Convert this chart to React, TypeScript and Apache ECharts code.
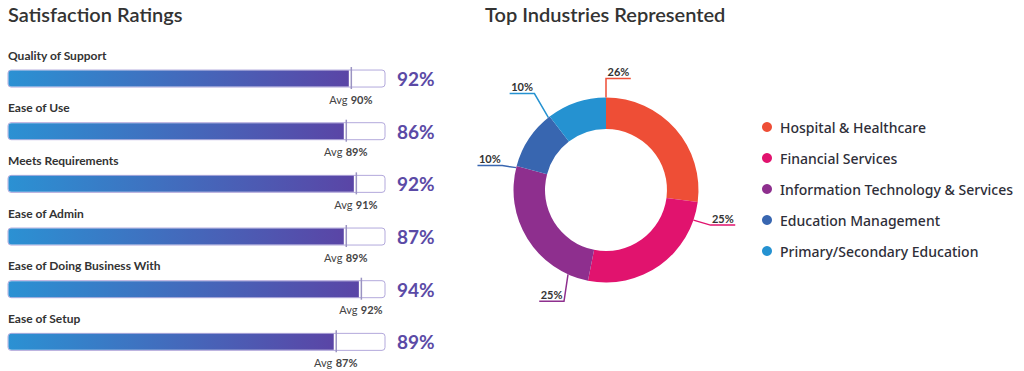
import React, { useEffect, useRef } from "react";
import * as echarts from "echarts";

// ---- data ----
const CATEGORIES = [
  "Quality of Support",
  "Ease of Use",
  "Meets Requirements",
  "Ease of Admin",
  "Ease of Doing Business With",
  "Ease of Setup",
];
const SCORES = [92, 86, 92, 87, 94, 89];
const AVERAGES = [90, 89, 91, 89, 92, 87];

const INDUSTRIES = [
  "Hospital & Healthcare",
  "Financial Services",
  "Information Technology & Services",
  "Education Management",
  "Primary/Secondary Education",
];
const SHARES = [26, 25, 25, 10, 10];
const INDUSTRY_COLORS = ["#ee4e36", "#e1136e", "#8e2f8e", "#3866b0", "#2592d1"];

// ---- label styling (leader lines) ----
const ANCHOR_SHIFT = [0, 11.5, 13, -1, -1];
const ELBOWS: [number, number][] = [
  [0, -19],
  [17, 5],
  [-4, 27],
  [-14, -2],
  [-14, -24],
];
const DIRS = [1, 1, -1, -1, -1];

const PIE_CENTER: [number, number] = [606, 190];
const PIE_R_IN = 61;
const PIE_R_OUT = 92.5;

const AXIS_MIN = 22;
const AXIS_MAX = 97;

export default function App() {
  const ref = useRef<HTMLDivElement>(null);

  useEffect(() => {
    if (!ref.current) return;
    const chart = echarts.init(ref.current, undefined, { renderer: "svg" });
    const total = SHARES.reduce((a, b) => a + b, 0);

    const barData = CATEGORIES.map((c, i) => [AVERAGES[i], i, SCORES[i]]);

    const option: any = {
      animation: false,
      title: [
        {
          text: "Satisfaction Ratings",
          left: 8,
          top: 4,
          padding: 0,
          textStyle: { fontFamily: "Lato", fontSize: 20, fontWeight: 600, color: "#333" },
        },
        {
          text: "Top Industries Represented",
          left: 485,
          top: 4,
          padding: 0,
          textStyle: { fontFamily: "Lato", fontSize: 20, fontWeight: 600, color: "#333" },
        },
      ],
      grid: { left: 8, right: 639, top: 52.2, bottom: 2.8 },
      xAxis: { type: "value", min: AXIS_MIN, max: AXIS_MAX, show: false },
      yAxis: { type: "category", data: CATEGORIES, inverse: true, show: false },
      legend: {
        data: INDUSTRIES,
        orient: "vertical",
        left: 762,
        top: 120,
        padding: 0,
        itemWidth: 16,
        itemHeight: 10,
        itemGap: 17,
        icon: "circle",
        selectedMode: false,
        textStyle: {
          fontFamily: "Noto Sans",
          fontSize: 14,
          fontWeight: 500,
          color: "#2e2e38",
          lineHeight: 14,
        },
      },
      series: [
        {
          type: "custom",
          clip: false,
          encode: { x: 0, y: 1 },
          data: barData,
          renderItem: (params: any, api: any) => {
            const avg = api.value(0);
            const idx = api.value(1);
            const score = api.value(2);
            const cs = params.coordSys;
            const [xa, yc] = api.coord([avg, idx]);
            const x0 = cs.x;
            const x1 = cs.x + cs.width;
            const h = 17;
            const top = yc - h / 2;
            return {
              type: "group",
              children: [
                {
                  type: "rect",
                  shape: { x: x0, y: top, width: x1 - x0, height: h, r: 3 },
                  style: { fill: "#fff", stroke: "#b3a9dc", lineWidth: 1 },
                },
                {
                  type: "rect",
                  shape: { x: x0 + 0.5, y: top + 0.5, width: xa - x0 - 1.5, height: h - 1, r: [3, 0, 0, 3] },
                  style: {
                    fill: new echarts.graphic.LinearGradient(0, 0, 1, 0, [
                      { offset: 0, color: "#2b91d3" },
                      { offset: 1, color: "#5a45a6" },
                    ]),
                  },
                },
                {
                  type: "line",
                  shape: { x1: xa + 1.5, y1: top - 3, x2: xa + 1.5, y2: top + h + 2 },
                  style: { stroke: "#9a93c2", lineWidth: 1.5 },
                },
                {
                  type: "text",
                  x: x0,
                  y: top - 15,
                  style: {
                    text: CATEGORIES[idx],
                    fontFamily: "Lato",
                    fontSize: 12,
                    fontWeight: "bold",
                    fill: "#333",
                    verticalAlign: "middle",
                    align: "left",
                  },
                },
                {
                  type: "text",
                  x: x1 + 12,
                  y: yc,
                  style: {
                    text: score + "%",
                    fontFamily: "Lato",
                    fontSize: 19,
                    fontWeight: "bold",
                    fill: "#5b4aa6",
                    verticalAlign: "middle",
                    align: "left",
                  },
                },
                {
                  type: "text",
                  x: xa + 1,
                  y: top + h + 12,
                  style: {
                    text: "{a|Avg} {b|" + avg + "%}",
                    align: "center",
                    verticalAlign: "middle",
                    rich: {
                      a: { fontFamily: "Lato", fontSize: 11, color: "#444", fill: "#444" },
                      b: { fontFamily: "Lato", fontSize: 11, fontWeight: "bold", color: "#444", fill: "#444" },
                    },
                  },
                },
              ],
            };
          },
        },
        {
          type: "pie",
          center: PIE_CENTER,
          radius: [PIE_R_IN, PIE_R_OUT],
          startAngle: 90,
          clockwise: true,
          data: INDUSTRIES.map((name, i) => ({
            name,
            value: SHARES[i],
            itemStyle: { color: INDUSTRY_COLORS[i] },
          })),
          label: {
            show: true,
            formatter: "{c}%",
            fontFamily: "Lato",
            fontSize: 11,
            fontWeight: "bold",
            color: "#333",
          },
          labelLine: { show: true, length: 10, length2: 10, lineStyle: { width: 1.5 } },
          emphasis: { disabled: true },
          labelLayout: (params: any) => {
            const i = params.dataIndex;
            const cum = SHARES.slice(0, i).reduce((a, b) => a + b, 0);
            const deg = (cum / total) * 360 + ANCHOR_SHIFT[i];
            const rad = (deg * Math.PI) / 180;
            const p0: [number, number] = [
              PIE_CENTER[0] + PIE_R_OUT * Math.sin(rad),
              PIE_CENTER[1] - PIE_R_OUT * Math.cos(rad),
            ];
            const p1: [number, number] = [p0[0] + ELBOWS[i][0], p0[1] + ELBOWS[i][1]];
            const w = params.labelRect.width;
            const p2: [number, number] = [p1[0] + DIRS[i] * (w + 3), p1[1]];
            return {
              x: p1[0] + DIRS[i] * 1.5,
              y: p1[1] - 7,
              align: DIRS[i] > 0 ? "left" : "right",
              verticalAlign: "middle",
              labelLinePoints: [p0, p1, p2],
            };
          },
        },
      ],
    };

    chart.setOption(option);
    return () => chart.dispose();
  }, []);

  return (
    <div
      ref={ref}
      style={{ position: "fixed", left: 0, top: 0, width: 1024, height: 371, background: "#fff" }}
    />
  );
}
